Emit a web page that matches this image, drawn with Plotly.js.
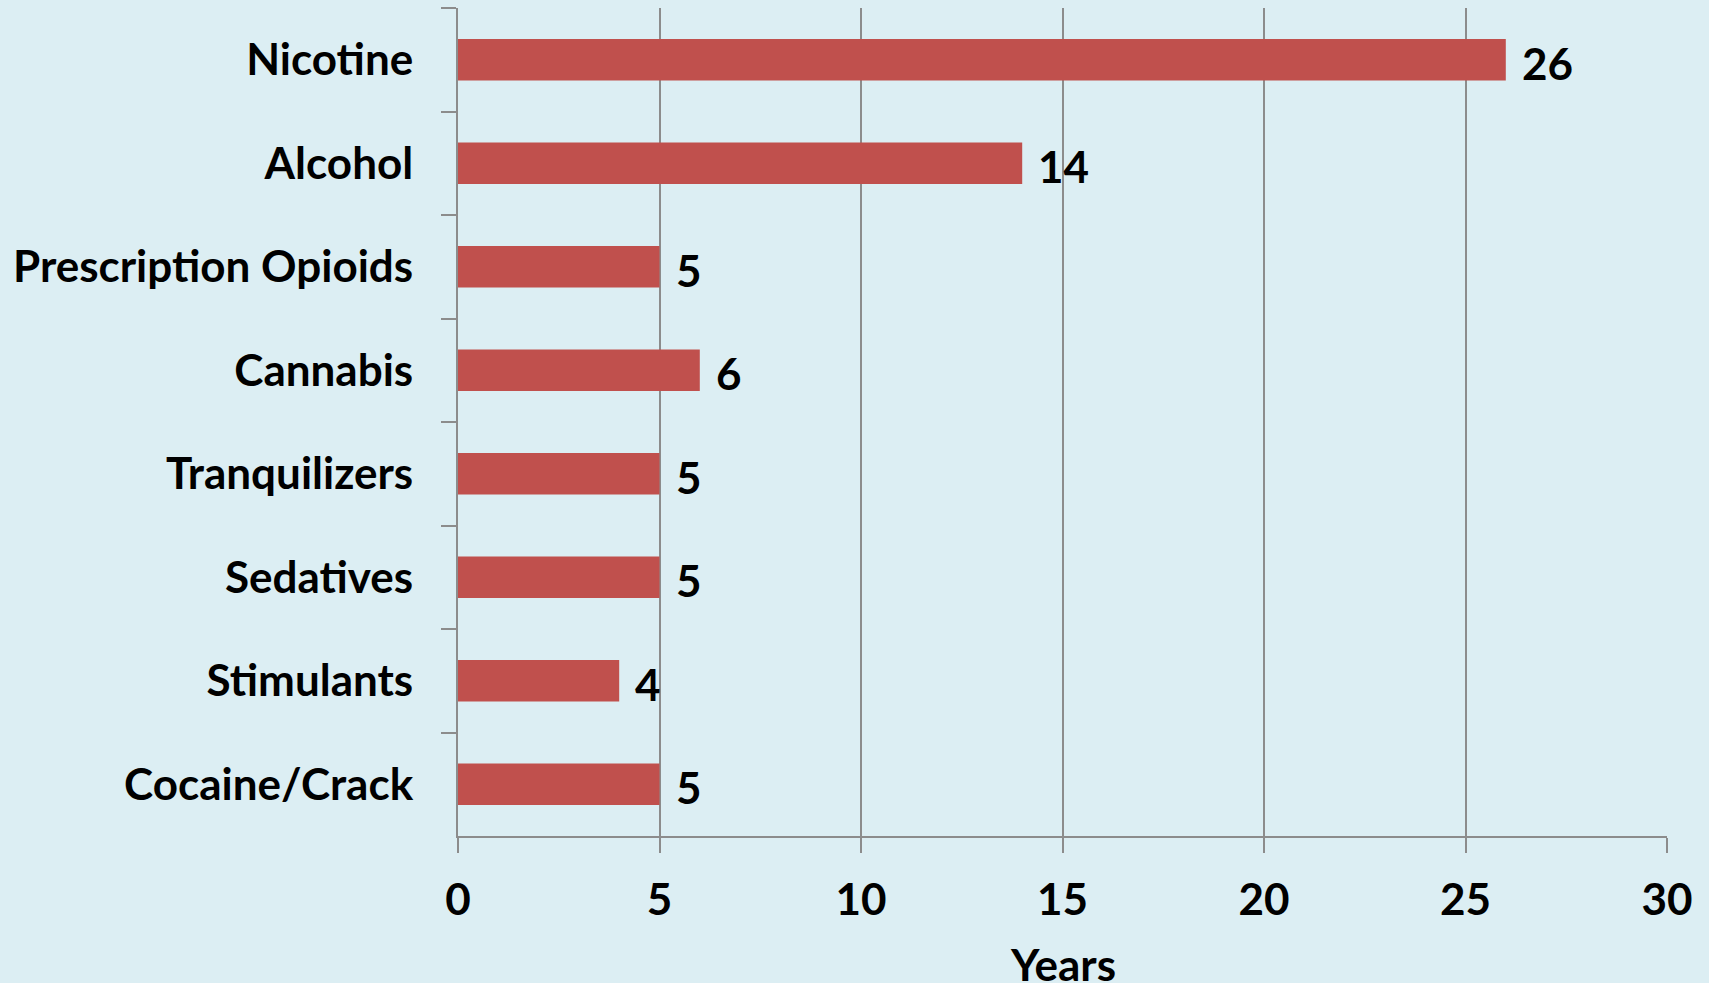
<!DOCTYPE html>
<html>
<head>
<meta charset="utf-8">
<script src="https://cdn.plot.ly/plotly-3.0.1.min.js"></script>
<style>html,body{margin:0;padding:0;background:#DCEEF3;}</style>
</head>
<body>
<div id="chart" style="width:1709px;height:983px;"></div>
<script>
const categories = ["Nicotine", "Alcohol", "Prescription Opioids", "Cannabis", "Tranquilizers", "Sedatives", "Stimulants", "Cocaine/Crack"];
const years = [26, 14, 5, 6, 5, 5, 4, 5];
const xTicks = [0, 5, 10, 15, 20, 25, 30];
const xTitle = "Years";

const FONT = "Lato, 'Open Sans', sans-serif";
const GRID = "#8C8C8C";
const TXT = {family: FONT, size: 44, color: "#000", weight: 700};

const trace = {
  type: "bar",
  orientation: "h",
  y: categories,
  x: years,
  width: 0.4,
  marker: {color: "#C0504D", line: {width: 0}},
  hoverinfo: "none"
};

const annotations = categories.map((c, i) => ({
  x: years[i], y: c, xref: "x", yref: "y",
  text: String(years[i]), showarrow: false,
  xanchor: "left", yanchor: "middle", xshift: 14, yshift: -3,
  font: TXT
}));
annotations.push({
  x: 0.5, y: 0, xref: "paper", yref: "paper",
  text: xTitle, showarrow: false,
  xanchor: "center", yanchor: "middle", yshift: -128,
  font: TXT
});

const layout = {
  width: 1709, height: 983,
  paper_bgcolor: "#DCEEF3", plot_bgcolor: "#DCEEF3",
  margin: {l: 458, r: 42, t: 8, b: 147},
  showlegend: false,
  font: TXT,
  xaxis: {
    range: [0, 30], tickvals: xTicks, ticktext: xTicks.map(String),
    showgrid: true, gridcolor: GRID, gridwidth: 2,
    showline: true, linecolor: GRID, linewidth: 2,
    ticks: "outside", ticklen: 15, tickwidth: 2, tickcolor: GRID,
    ticklabelstandoff: 9,
    zeroline: false,
    tickfont: TXT
  },
  yaxis: {
    type: "category", autorange: "reversed",
    showgrid: false, showline: true, linecolor: GRID, linewidth: 2,
    ticks: "outside", ticklen: 15, tickwidth: 2, tickcolor: GRID,
    tickson: "boundaries", ticklabelstandoff: 34,
    zeroline: false,
    tickfont: TXT
  },
  annotations: annotations
};

Plotly.newPlot("chart", [trace], layout, {displayModeBar: false, staticPlot: true});
</script>
</body>
</html>
